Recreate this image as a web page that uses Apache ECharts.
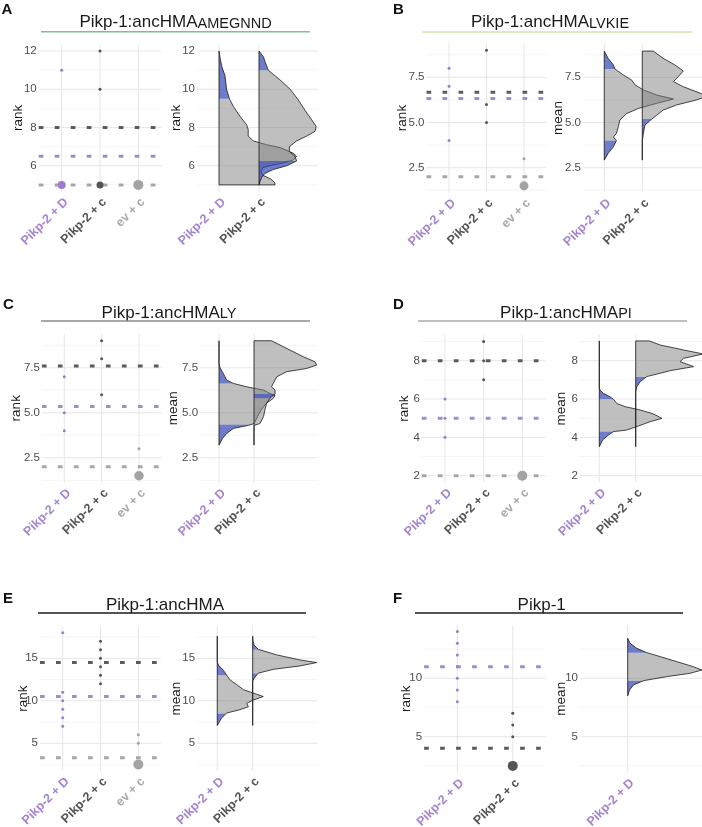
<!DOCTYPE html>
<html><head><meta charset="utf-8">
<script src="https://cdn.jsdelivr.net/npm/echarts@6/dist/echarts.min.js"></script>
<style>html,body{margin:0;padding:0;background:#fff}#c{width:702px;height:827px}</style>
</head><body><div id="c"></div>
<script>
// ================= DATA =================
const categories = ['Pikp-2 + D', 'Pikp-2 + c', 'ev + c'];
const categoriesF = ['Pikp-2 + D', 'Pikp-2 + c'];

// Panel A
const titleA = ['Pikp-1:ancHMA', 'AMEGNND'];
const yTicksA = [6, 8, 10, 12];
const yMinorA = [5, 7, 9, 11];
const rankA_D = [11];
const rankA_c = [12, 10];
const rankA_ev = [];
const bigA = [5, 5, 5];
const meanA = [6.5, 8, 5];
const densA_D = [[5.0,1.4],[5.1,1.4],[5.3,1.3],[5.5,1.1],[5.7,1.05],[5.9,1.1],[6.0,1.25],[6.1,1.5],[6.3,1.86],[6.5,1.94],[6.65,1.86],[6.95,1.53],[7.1,1.19],[7.3,0.86],[7.55,0.73],[7.9,0.73],[8.15,0.69],[8.6,0.52],[9.1,0.36],[9.5,0.26],[10,0.19],[10.7,0.15],[11.2,0.07],[11.6,0.03],[12,0]];
const outA_D = [[9.5, 12]];
const densA_c = [[5.0,0],[5.2,0.03],[5.4,0.07],[5.6,0.15],[5.8,0.35],[6.0,0.69],[6.25,0.94],[6.5,0.9],[6.75,0.76],[7.0,0.76],[7.3,0.94],[7.55,1.19],[7.8,1.4],[8.05,1.43],[8.4,1.32],[8.9,1.15],[9.45,0.98],[10,0.78],[10.5,0.52],[11,0.23],[11.45,0.15],[11.7,0.11],[12,0]];
const outA_c = [[5.0, 6.25], [11, 12]];

// Panel B
const titleB = ['Pikp-1:ancHMA', 'LVKIE'];
const yTicksB = [2.5, 5, 7.5];
const yMinorB = [1.25, 3.75, 6.25, 8.75];
const rankB_D = [8, 7, 4];
const rankB_c = [9, 6, 5];
const rankB_ev = [3];
const bigB = [null, null, 1.5];
const meanB = [6.33, 6.67, 2];
const densB_D = [[2.92,0],[3.29,0.1],[3.66,0.24],[4.0,0.32],[4.2,0.24],[4.4,0.32],[4.77,0.37],[5.14,0.41],[5.5,0.59],[5.78,0.9],[6.06,1.38],[6.3,1.82],[6.52,1.38],[6.8,1.03],[7.08,0.81],[7.35,0.72],[7.63,0.5],[7.96,0.28],[8.18,0.24],[8.55,0.1],[8.95,0]];
const outB_D = [[2.92, 4.0], [7.96, 8.95]];
const densB_c = [[2.92,0],[4.0,0],[4.4,0.03],[4.86,0.07],[5.19,0.25],[5.4,0.38],[5.69,0.55],[5.97,0.9],[6.25,1.43],[6.45,1.7],[6.6,1.55],[6.98,1.08],[7.26,0.82],[7.54,0.95],[7.85,1.08],[8.18,0.86],[8.55,0.55],[8.95,0.29]];
const outB_c = [[2.92, 5.19]];

// Panel C
const titleC = ['Pikp-1:ancHMA', 'LY'];
const yTicksC = [2.5, 5, 7.5];
const yMinorC = [1.25, 3.75, 6.25, 8.75];
const rankC_D = [7, 5, 4];
const rankC_c = [9, 8, 6];
const rankC_ev = [3];
const bigC = [null, null, 1.5];
const meanC = [5.35, 7.6, 2];
const densC_D = [[3.2,0],[3.57,0.1],[3.85,0.22],[4.13,0.41],[4.3,0.84],[4.4,1.0],[4.78,1.1],[5.15,1.2],[5.52,1.35],[5.8,1.55],[5.95,1.6],[6.07,1.46],[6.26,1.27],[6.44,0.79],[6.63,0.41],[6.81,0.22],[7.19,0.12],[7.5,0.03],[7.74,0],[9.0,0]];
const outC_D = [[3.2, 4.35], [6.63, 9.0]];
const densC_c = [[3.2,0],[4.3,0],[4.4,0.17],[4.78,0.27],[5.15,0.31],[5.52,0.36],[5.8,0.45],[5.89,0.5],[6.04,0.6],[6.26,0.6],[6.44,0.5],[6.63,0.55],[7.0,0.65],[7.28,0.93],[7.46,1.5],[7.65,1.79],[7.83,1.74],[8.11,1.41],[8.48,1.03],[9.0,0.5]];
const outC_c = [[5.8, 6.04]];

// Panel D
const titleD = ['Pikp-1:ancHMA', 'PI'];
const yTicksD = [2, 4, 6, 8];
const yMinorD = [3, 5, 7, 9];
const rankD_D = [6, 5, 4];
const rankD_c = [9, 8, 7];
const rankD_ev = [];
const bigD = [null, null, 2];
const meanD = [5, 8, 2];
const densD_D = [[3.51,0],[3.86,0.09],[4.12,0.25],[4.3,0.39],[4.38,0.75],[4.56,1.03],[4.82,1.4],[4.99,1.72],[5.22,1.49],[5.43,1.12],[5.6,0.71],[5.77,0.48],[5.98,0.39],[6.12,0.29],[6.3,0.11],[6.47,0.02],[6.6,0],[9.03,0]];
const outD_D = [[3.51, 4.3], [6.0, 9.03]];
const densD_c = [[3.51,0],[6.38,0],[6.64,0.03],[6.9,0.12],[7.17,0.3],[7.3,0.58],[7.48,0.95],[7.69,1.59],[7.95,1.22],[8.12,1.31],[8.35,1.85],[8.56,1.31],[8.82,0.67],[9.03,0.37]];
const outD_c = [[3.51, 7.15]];

// Panel E
const titleE = ['Pikp-1:ancHMA', ''];
const yTicksE = [5, 10, 15];
const yMinorE = [2.5, 7.5, 12.5, 17.5];
const rankE_D = [18, 11, 10, 9, 8, 7];
const rankE_c = [17, 16, 15, 14, 13, 12];
const rankE_ev = [6, 5];
const bigE = [null, null, 2.5];
const meanE = [10.5, 14.5, 3.3];
const densE_D = [[7.1,0],[7.96,0.12],[8.55,0.26],[8.95,0.64],[9.3,0.88],[9.7,0.83],[10.1,1.02],[10.5,1.3],[10.9,1.02],[11.3,0.74],[11.9,0.55],[12.45,0.36],[13.05,0.26],[13.6,0.17],[14.2,0.03],[14.6,0],[17.6,0]];
const outE_D = [[7.1, 8.5], [13.0, 17.6]];
const densE_c = [[7.1,0],[12.3,0],[12.65,0.04],[13.25,0.16],[13.7,0.58],[14.1,1.34],[14.5,1.81],[14.8,1.34],[15.4,0.68],[16.05,0.16],[16.55,0.04],[17.0,0.01],[17.6,0]];
const outE_c = [[7.1, 13.2], [16.0, 17.6]];

// Panel F
const titleF = ['Pikp-1', ''];
const yTicksF = [5, 10];
const yMinorF = [2.5, 7.5, 12.5];
const rankF_D = [14, 13, 12, 11, 10, 9, 8];
const rankF_c = [7, 6, 5];
const bigF = [null, 2.5];
const meanF = [11, 4];
const densF_D = [[8.5,0],[9.0,0.05],[9.43,0.16],[9.8,0.44],[10.14,1.08],[10.43,1.73],[10.71,2.06],[11.0,1.82],[11.43,1.36],[11.86,0.9],[12.2,0.53],[12.57,0.25],[13.0,0.065],[13.43,0]];
const outF_D = [[8.5, 9.8], [12.2, 13.43]];

// ================= STYLE / LAYOUT =================
const FONT = '"Liberation Sans", Arial, Helvetica, sans-serif';
const dotColors = ['#9d7ccb', '#555555', '#a3a3a3'];
const meanColors = ['#a588d2', '#5a5a5a', '#a6a6a6'];
const labelColors = ['#a585d2', '#555555', '#aaaaaa'];
const GRAY_FILL = 'rgba(128,128,128,0.5)';
const BLUE_FILL = 'rgba(49,68,178,0.7)';
const GRID_MAJOR = '#e6e6e6', GRID_MINOR = '#f1f1f1';

const panels = [
  { title: titleA, ticks: yTicksA, minor: yMinorA, dec: false, cats: categories, ranks: [rankA_D, rankA_c, rankA_ev], big: bigA, means: meanA,
    dens: [[densA_D, outA_D], [densA_c, outA_c]], rightCats: categories.slice(0, 2), rightName: 'rank',
    L: [38.7, 44.3, 122.6, 147.3], R: [197, 44.3, 121, 147.3], xL: [0.4, 3.6], xR: [0.45, 3.475], y: [4.65, 12.35],
    bigSize: [8, 7, 10], gapL: 13, gapR: 14, titleX: 175.5, titleBottom: 31.1, line: [41, 310, 31.7], lineColor: '#7fc08c', letter: ['A', 1.5, 15] },
  { title: titleB, ticks: yTicksB, minor: yMinorB, dec: true, cats: categories, ranks: [rankB_D, rankB_c, rankB_ev], big: bigB, means: meanB,
    dens: [[densB_D, outB_D], [densB_c, outB_c]], rightCats: categories.slice(0, 2), rightName: 'mean',
    L: [426.5, 43.4, 120, 149.2], R: [583, 43.4, 127, 149.2], xL: [0.4, 3.6], xR: [0.44, 3.782], y: [1.125, 9.375],
    bigSize: [0, 0, 9], gapL: 17, gapR: 18, titleX: 550, titleBottom: 31.1, line: [422, 692, 32], lineColor: '#cfe4a6', letter: ['B', 393, 15] },
  { title: titleC, ticks: yTicksC, minor: yMinorC, dec: true, cats: categories, ranks: [rankC_D, rankC_c, rankC_ev], big: bigC, means: meanC,
    dens: [[densC_D, outC_D], [densC_c, outC_c]], rightCats: categories.slice(0, 2), rightName: 'mean',
    L: [41.9, 334, 119.5, 148.5], R: [200.1, 334, 118, 148.5], xL: [0.4, 3.6], xR: [0.46, 3.83], y: [1.125, 9.375],
    bigSize: [0, 0, 9.5], gapL: 19, gapR: 20, titleX: 169, titleBottom: 321.8, line: [41, 310, 321], lineColor: '#8a8a8a', letter: ['C', 3, 310] },
  { title: titleD, ticks: yTicksD, minor: yMinorD, dec: false, cats: categories, ranks: [rankD_D, rankD_c, rankD_ev], big: bigD, means: meanD,
    dens: [[densD_D, outD_D], [densD_c, outD_c]], rightCats: categories.slice(0, 2), rightName: 'mean',
    L: [421.8, 334.8, 123.7, 147.6], R: [580, 334.8, 130, 147.6], xL: [0.4, 3.6], xR: [0.47, 4.04], y: [1.65, 9.35],
    bigSize: [0, 0, 10], gapL: 11, gapR: 12, titleX: 566, titleBottom: 321.8, line: [418, 687, 321], lineColor: '#aaaaaa', letter: ['D', 393, 310] },
  { title: titleE, ticks: yTicksE, minor: yMinorE, dec: false, cats: categories, ranks: [rankE_D, rankE_c, rankE_ev], big: bigE, means: meanE,
    dens: [[densE_D, outE_D], [densE_c, outE_c]], rightCats: categories.slice(0, 2), rightName: 'mean',
    L: [40, 626.2, 121, 144.9], R: [197.1, 626.2, 120, 144.9], xL: [0.4, 3.6], xR: [0.43, 3.82], y: [1.725, 18.775],
    bigSize: [0, 0, 10], gapL: 10, gapR: 14, titleX: 165, titleBottom: 613.4, line: [38, 306, 613], lineColor: '#1a1a1a', letter: ['E', 3, 604] },
  { title: titleF, ticks: yTicksF, minor: yMinorF, dec: false, cats: categoriesF, ranks: [rankF_D, rankF_c], big: bigF, means: meanF,
    dens: [[densF_D, outF_D]], rightCats: categoriesF.slice(0, 1), rightName: 'mean',
    L: [424.1, 624.9, 121.9, 147.7], R: [580, 624.9, 130, 147.7], xL: [0.4, 2.6], xR: [-0.325, 3.286], y: [1.925, 14.575],
    bigSize: [0, 10], gapL: 11, gapR: 12, titleX: 541.7, titleBottom: 613.4, line: [415, 683, 613], lineColor: '#1a1a1a', letter: ['F', 393, 604] }
];

// ================= BUILD =================
const grids = [], xAxes = [], yAxes = [], series = [], graphics = [];

function catRich() {
  const r = {};
  labelColors.forEach((c, i) => { r['c' + i] = { color: c, fontWeight: 'bold', fontSize: 12.5, fontFamily: FONT }; });
  return r;
}

function addAxes(gi, box, xr, yr, cats, ticks, dec, name, gap) {
  grids.push({ left: box[0], top: box[1], width: box[2], height: box[3], containLabel: false, outerBoundsMode: 'none', show: false });
  xAxes.push({ type: 'value', gridIndex: gi, min: xr[0], max: xr[1],
    axisLine: { show: false }, axisTick: { show: false }, splitLine: { show: false }, minorSplitLine: { show: false },
    axisLabel: { customValues: cats.map((c, i) => i + 1), rotate: 45, margin: 4, align: 'right', verticalAlign: 'top', hideOverlap: false,
      formatter: v => { const i = Math.round(v) - 1; return '{c' + i + '|' + cats[i] + '}'; }, rich: catRich() } });
  yAxes.push({ type: 'value', gridIndex: gi, min: yr[0], max: yr[1],
    axisLine: { show: false }, axisTick: { show: false }, splitLine: { show: false }, minorSplitLine: { show: false },
    axisLabel: { customValues: ticks, margin: 2, color: '#4d4d4d', fontSize: 11.5, fontFamily: FONT, hideOverlap: false,
      formatter: v => dec ? Number(v).toFixed(1) : String(v) },
    name: name, nameLocation: 'middle', nameGap: gap, nameMoveOverlap: false,
    nameTextStyle: { color: '#1a1a1a', fontSize: 13.5, fontFamily: FONT } });
}

function hLines(gi, xmin, vals, colors, width, dash, z) {
  return { type: 'custom', xAxisIndex: gi, yAxisIndex: gi, z: z, silent: true,
    data: vals.map(v => [xmin, v]),
    renderItem: (params, api) => {
      const cs = params.coordSys;
      const y = api.coord([api.value(0), api.value(1)])[1];
      const col = Array.isArray(colors) ? colors[params.dataIndex] : colors;
      return { type: 'line', shape: { x1: cs.x, y1: y, x2: cs.x + cs.width, y2: y },
        style: { stroke: col, lineWidth: width, lineDash: dash || null, fill: 'none' } };
    } };
}

function vLines(gi, ymin, vals, color, width, z) {
  return { type: 'custom', xAxisIndex: gi, yAxisIndex: gi, z: z, silent: true,
    data: vals.map(v => [v, ymin]),
    renderItem: (params, api) => {
      const cs = params.coordSys;
      const x = api.coord([api.value(0), api.value(1)])[0];
      return { type: 'line', shape: { x1: x, y1: cs.y, x2: x, y2: cs.y + cs.height },
        style: { stroke: color, lineWidth: width, fill: 'none' } };
    } };
}

function wAt(pts, y) {
  for (let i = 0; i < pts.length - 1; i++) {
    const a = pts[i], b = pts[i + 1];
    if (y >= a[0] && y <= b[0]) { const t = b[0] === a[0] ? 0 : (y - a[0]) / (b[0] - a[0]); return a[1] + t * (b[1] - a[1]); }
  }
  return 0;
}
function clipRange(pts, lo, hi) {
  const out = [[lo, wAt(pts, lo)]];
  pts.forEach(p => { if (p[0] > lo && p[0] < hi) out.push(p); });
  out.push([hi, wAt(pts, hi)]);
  return out;
}

function densitySeries(gi, cat, pts, outs, z) {
  const ymin = pts[0][0], ymax = pts[pts.length - 1][0];
  const cuts = [ymin, ymax];
  outs.forEach(o => { [o[0], o[1]].forEach(v => { if (v > ymin && v < ymax) cuts.push(v); }); });
  const ys = Array.from(new Set(cuts)).sort((a, b) => a - b);
  const segs = [];
  for (let i = 0; i < ys.length - 1; i++) {
    const lo = ys[i], hi = ys[i + 1], mid = (lo + hi) / 2;
    segs.push({ lo, hi, out: outs.some(o => mid > o[0] && mid < o[1]) });
  }
  return { type: 'custom', xAxisIndex: gi, yAxisIndex: gi, z: z, silent: true,
    data: pts.map(p => [cat + p[1], p[0]]),
    renderItem: (params, api) => {
      if (params.dataIndex !== 0) return null;
      const P = (w, y) => api.coord([cat + w, y]);
      const children = segs.map(s => {
        const part = clipRange(pts, s.lo, s.hi);
        const poly = [P(0, s.lo)].concat(part.map(p => P(p[1], p[0]))).concat([P(0, s.hi)]);
        return { type: 'polygon', shape: { points: poly }, style: { fill: s.out ? BLUE_FILL : GRAY_FILL, stroke: 'none' } };
      });
      const outline = [P(0, ymin)].concat(pts.map(p => P(p[1], p[0]))).concat([P(0, ymax)]);
      children.push({ type: 'polygon', shape: { points: outline }, style: { fill: 'none', stroke: '#1a1a1a', lineWidth: 0.8 } });
      return { type: 'group', children: children };
    } };
}

panels.forEach((p, k) => {
  const gL = 2 * k, gR = 2 * k + 1;
  addAxes(gL, p.L, p.xL, p.y, p.cats, p.ticks, p.dec, 'rank', p.gapL);
  addAxes(gR, p.R, p.xR, p.y, p.rightCats, p.ticks, p.dec, p.rightName, p.gapR);

  // left: dot plot
  series.push(hLines(gL, p.xL[0], p.minor, GRID_MINOR, 0.7, null, 1));
  series.push(hLines(gL, p.xL[0], p.ticks, GRID_MAJOR, 1, null, 1));
  series.push(vLines(gL, p.y[0], p.cats.map((c, i) => i + 1), GRID_MAJOR, 1, 1));
  series.push(hLines(gL, p.xL[0], p.means, meanColors.slice(0, p.means.length), 3, [4.7, 11.3], 2));
  p.ranks.forEach((vals, i) => {
    series.push({ type: 'scatter', xAxisIndex: gL, yAxisIndex: gL, z: 4, silent: true, symbolSize: 3,
      itemStyle: { color: dotColors[i], opacity: 1 }, data: vals.map(v => [i + 1, v]) });
  });
  p.big.forEach((v, i) => {
    if (v === null) return;
    series.push({ type: 'scatter', xAxisIndex: gL, yAxisIndex: gL, z: 5, silent: true, symbolSize: p.bigSize[i],
      itemStyle: { color: dotColors[i], opacity: 1 }, data: [[i + 1, v]] });
  });

  // right: densities
  series.push(hLines(gR, p.xR[0], p.minor, GRID_MINOR, 0.7, null, 1));
  series.push(hLines(gR, p.xR[0], p.ticks, GRID_MAJOR, 1, null, 1));
  series.push(vLines(gR, p.y[0], p.rightCats.map((c, i) => i + 1), GRID_MAJOR, 1, 1));
  p.dens.forEach((d, i) => { series.push(densitySeries(gR, i + 1, d[0], d[1], 3 + i)); });

  // title, underline, letter
  const rich = {
    m: { fontSize: 17, fontFamily: FONT, lineHeight: 22, verticalAlign: 'bottom', fill: '#1a1a1a' },
    s: { fontSize: 14.5, fontFamily: FONT, lineHeight: 16, verticalAlign: 'bottom', fill: '#1a1a1a' }
  };
  const txt = '{m|' + p.title[0] + '}' + (p.title[1] ? '{s|' + p.title[1] + '}' : '');
  graphics.push({ type: 'text', x: p.titleX, y: p.titleBottom, silent: true,
    style: { text: txt, rich: rich, align: 'center', verticalAlign: 'bottom' } });
  graphics.push({ type: 'line', silent: true, shape: { x1: p.line[0], y1: p.line[2], x2: p.line[1], y2: p.line[2] },
    style: { stroke: p.lineColor, lineWidth: 1.5 } });
  graphics.push({ type: 'text', x: p.letter[1], y: p.letter[2] - 5.2, silent: true,
    style: { text: p.letter[0], fontSize: 15, fontWeight: 'bold', fontFamily: FONT, fill: '#111', align: 'left', verticalAlign: 'middle' } });
});

const chart = echarts.init(document.getElementById('c'), null, { renderer: 'canvas' });
chart.setOption({
  animation: false,
  backgroundColor: '#ffffff',
  grid: grids, xAxis: xAxes, yAxis: yAxes, series: series, graphic: graphics,
  tooltip: { show: false }
});
</script>
</body></html>
